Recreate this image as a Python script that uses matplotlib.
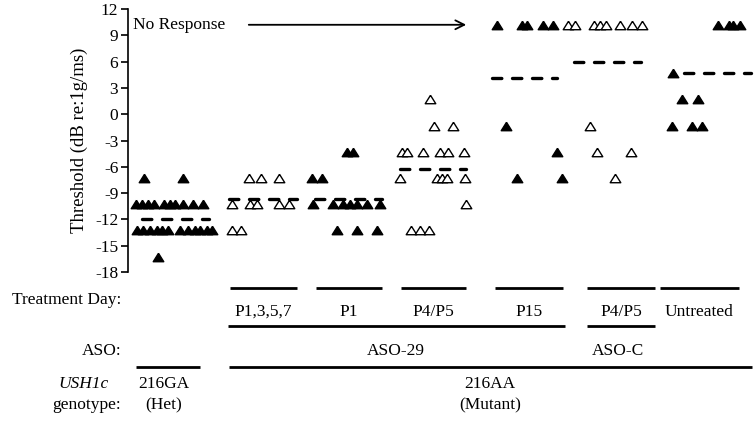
import matplotlib
matplotlib.use("Agg")
import matplotlib.pyplot as plt
import matplotlib.transforms as mtransforms

plt.rcParams['font.family'] = ['Liberation Serif', 'DejaVu Serif']
plt.rcParams['axes.unicode_minus'] = False

# threshold data per group (x = horizontal scatter position, y = dB)
het_x = [144, 183, 136, 142, 148, 154, 164, 170, 175, 183, 193, 203,
         137, 143, 150, 157, 162, 168, 180, 188, 195, 200, 207, 212, 158]
het_y = [-7.3] * 2 + [-10.2] * 10 + [-13.2] * 12 + [-16.3]

p1357_x = [249, 261, 279, 232, 250, 257, 279, 289, 232, 241]
p1357_y = [-7.3] * 3 + [-10.2] * 5 + [-13.2] * 2

p1_x = [347, 353, 312, 322, 313, 333, 343, 350, 357, 367, 380, 337, 357, 377]
p1_y = [-4.3] * 2 + [-7.3] * 2 + [-10.2] * 7 + [-13.2] * 3

p45_x = [430, 434, 453, 402, 407, 423, 440, 448, 464,
         400, 437, 442, 447, 465, 466, 411, 420, 429]
p45_y = [1.7] + [-1.3] * 2 + [-4.3] * 6 + [-7.3] * 5 + [-10.3] + [-13.2] * 3

p15_x = [497, 522, 527, 543, 553, 506, 557, 517, 562]
p15_y = [10.2] * 5 + [-1.3, -4.3, -7.3, -7.3]

asoc_x = [568, 575, 594, 600, 606, 620, 632, 642, 590, 597, 631, 615]
asoc_y = [10.2] * 8 + [-1.3, -4.3, -4.3, -7.3]

untr_x = [718, 729, 733, 740, 673, 682, 698, 672, 692, 702]
untr_y = [10.2] * 4 + [4.7, 1.7, 1.7, -1.3, -1.3, -1.3]

groups = [(het_x, het_y, True), (p1357_x, p1357_y, False), (p1_x, p1_y, True),
          (p45_x, p45_y, False), (p15_x, p15_y, True), (asoc_x, asoc_y, False),
          (untr_x, untr_y, True)]

# group means (dashed bars)
mean_vals = [-12.0, -9.7, -9.7, -6.2, 4.1, 5.9, 4.67]
mean_lo = [140, 227, 313, 398, 490, 572, 682]
mean_hi = [210, 298, 383, 467, 558, 642, 752]

yticks = list(range(-18, 13, 3))

FS = 12.5

fig = plt.figure(figsize=(7.55, 4.22), dpi=100)
ax = fig.add_axes([128 / 755, 1 - 272 / 422, 1 - 128 / 755, 263 / 422])
ax.set_xlim(128, 755)
ax.set_ylim(-18, 12)

tri = [(0, 0.8), (-1, -0.8), (1, -0.8), (0, 0.8)]
for xs, ys, filled in groups:
    ax.plot(xs, ys, linestyle='none', marker=tri, markersize=7.6,
            markerfacecolor='black' if filled else 'white',
            markeredgecolor='black', markeredgewidth=1.0, clip_on=False, zorder=3)

for m, lo, hi in zip(mean_vals, mean_lo, mean_hi):
    ax.plot([lo + 1.5, hi - 1.5], [m, m], color='black', lw=2.4,
            dashes=(2.8, 3.2), dash_capstyle='round', zorder=4)

for s in ['top', 'right', 'bottom']:
    ax.spines[s].set_visible(False)
ax.spines['left'].set_linewidth(1.2)
ax.set_xticks([])
ax.set_yticks(yticks)
ax.tick_params(axis='y', direction='out', length=5, width=1.2, labelsize=FS, pad=2)
ax.set_ylabel('Threshold (dB re:1g/ms)', fontsize=13.5, labelpad=5)

ax.text(133, 10.2, 'No Response', fontsize=FS, va='center', ha='left')
ax.annotate('', xy=(469, 10.2), xytext=(246, 10.2),
            arrowprops=dict(arrowstyle='->', lw=1.3, color='black',
                            mutation_scale=16))

# annotation rows below the plot
tr = mtransforms.blended_transform_factory(ax.transData, fig.transFigure)


def fy(py):
    return 1 - py / 422


def hline(x0, x1, py, lw=2.0):
    ax.plot([x0, x1], [fy(py), fy(py)], color='black', lw=lw,
            transform=tr, clip_on=False, solid_capstyle='butt')


day_labels = ['P1,3,5,7', 'P1', 'P4/P5', 'P15', 'P4/P5', 'Untreated']
day_lo = [230, 316, 401, 495, 587, 660]
day_hi = [297, 382, 466, 563, 655, 739]
for lab, lo, hi in zip(day_labels, day_lo, day_hi):
    hline(lo, hi, 288)
    ax.text((lo + hi) / 2, fy(312), lab, transform=tr, ha='center', va='center',
            fontsize=FS)

fig.text(121 / 755, fy(300), 'Treatment Day:', ha='right', va='center', fontsize=FS)

hline(228, 565, 326)
hline(587, 655, 326)
fig.text(121 / 755, fy(351), 'ASO:', ha='right', va='center', fontsize=FS)
ax.text(396, fy(351), 'ASO-29', transform=tr, ha='center', va='center', fontsize=FS)
ax.text(618, fy(351), 'ASO-C', transform=tr, ha='center', va='center', fontsize=FS)

hline(136, 200, 367)
hline(229, 752, 367)
fig.text(84 / 755, fy(384), 'USH1c', ha='center', va='center', fontsize=FS,
         style='italic')
fig.text(121 / 755, fy(405), 'genotype:', ha='right', va='center', fontsize=FS)
ax.text(164, fy(384), '216GA', transform=tr, ha='center', va='center', fontsize=FS)
ax.text(164, fy(405), '(Het)', transform=tr, ha='center', va='center', fontsize=FS)
ax.text(490, fy(384), '216AA', transform=tr, ha='center', va='center', fontsize=FS)
ax.text(490, fy(405), '(Mutant)', transform=tr, ha='center', va='center', fontsize=FS)

fig.savefig('out.png', dpi=100)
